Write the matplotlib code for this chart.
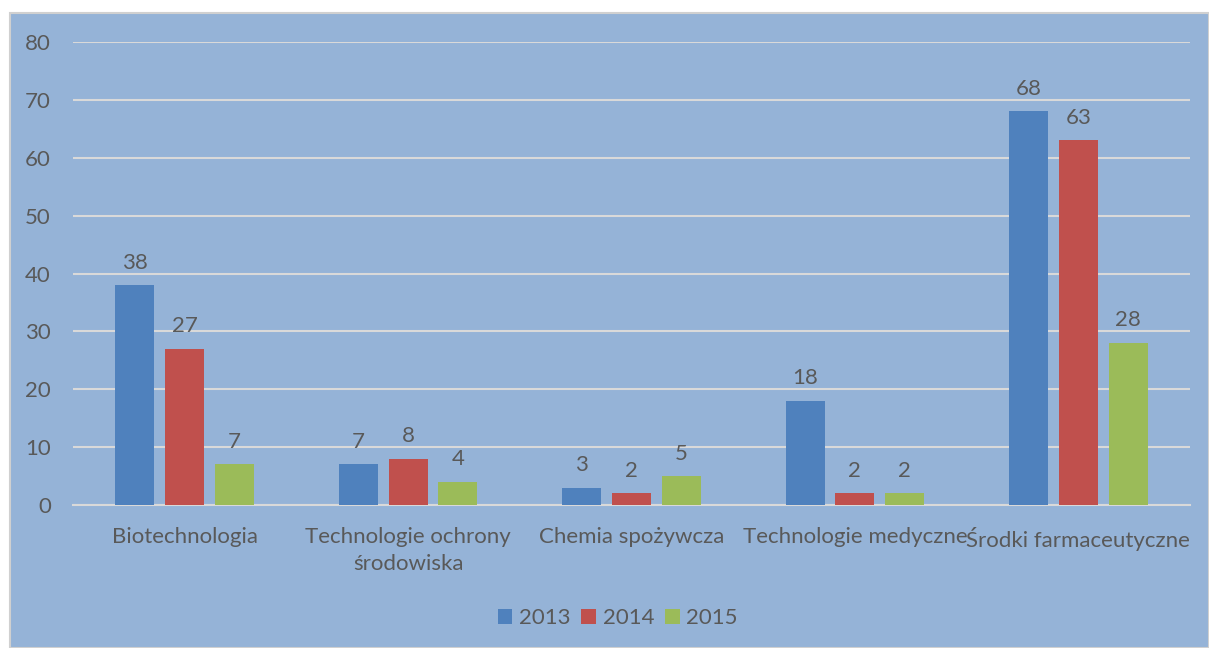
import matplotlib
matplotlib.use("Agg")
import matplotlib.pyplot as plt
from matplotlib.patches import Rectangle
import numpy as np

categories = ["Biotechnologia", "Technologie ochrony\nśrodowiska", "Chemia spożywcza",
              "Technologie medyczne", "Środki farmaceutyczne"]
series_names = ["2013", "2014", "2015"]
v2013 = [38, 7, 3, 18, 68]
v2014 = [27, 8, 2, 2, 63]
v2015 = [7, 4, 5, 2, 28]
colors = ["#4F81BD", "#C0504D", "#9BBB59"]
yticks = [0, 10, 20, 30, 40, 50, 60, 70, 80]

plt.rcParams['font.family'] = ['Lato', 'DejaVu Sans']
W, H = 1209, 648
fig = plt.figure(figsize=(W/100, H/100), dpi=100)
fig.patch.set_facecolor("white")
bg = Rectangle((10/W, 0), (W-10)/W, (H-13)/H, transform=fig.transFigure,
               facecolor="#95B3D7", edgecolor="#D0D0D0", linewidth=1.5, zorder=-10)
fig.patches.append(bg)

ax = fig.add_axes([73/W, 1-505/H, (1190-73)/W, (505-42)/H])
ax.set_facecolor("none")
x = np.arange(len(categories))
width = 0.175
offs = 0.223
txt = "#595959"
fs = 16
for i, (vals, c, name) in enumerate(zip([v2013, v2014, v2015], colors, series_names)):
    pos = x + (i-1)*offs
    bars = ax.bar(pos, vals, width, color=c, label=name, zorder=3)
    for b, v in zip(bars, vals):
        ax.annotate(str(v), (b.get_x()+b.get_width()/2, v), xytext=(0, 9),
                    textcoords="offset points", ha="center", va="bottom",
                    fontsize=fs, color=txt)

ax.set_xlim(-0.5, len(categories)-0.5)
ax.set_ylim(0, 80)
ax.set_yticks(yticks)
ax.yaxis.grid(True, color="#D9D9D9", linewidth=1.5, zorder=0)
ax.set_axisbelow(True)
for s in ["top", "right", "left"]:
    ax.spines[s].set_visible(False)
ax.spines["bottom"].set_color("#D9D9D9")
ax.spines["bottom"].set_linewidth(1.5)
ax.set_xticks(x)
ax.set_xticklabels(categories, fontsize=fs, color=txt, linespacing=1.45)
ax.tick_params(axis="x", length=0, pad=16)
ax.tick_params(axis="y", length=0, pad=16, labelsize=fs, labelcolor=txt)

leg = fig.legend(loc="center", bbox_to_anchor=(0.511, 1-618/H), ncol=3, frameon=False,
                 fontsize=fs, labelcolor=txt, handlelength=0.65, handleheight=0.65,
                 columnspacing=0.5, handletextpad=0.3)

fig.savefig("out.png", dpi=100)
